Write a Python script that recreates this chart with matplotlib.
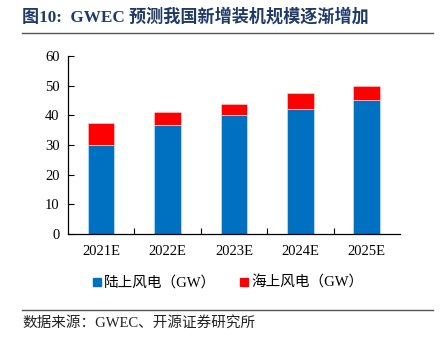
import matplotlib
matplotlib.use('Agg')
import matplotlib.pyplot as plt
from matplotlib.lines import Line2D
import numpy as np

plt.rcParams['font.family'] = ['Liberation Serif', 'Noto Sans CJK SC']

years = ['2021E', '2022E', '2023E', '2024E', '2025E']
onshore = [30.0, 36.7, 40.0, 42.2, 45.0]
offshore = [7.5, 4.3, 3.8, 5.2, 5.0]

BLUE = '#0070c0'
RED = '#ff0000'

fig = plt.figure(figsize=(4.41, 3.43), dpi=100)
ax = fig.add_axes([0.154, 0.318, 0.753, 0.519])

x = np.arange(len(years))
ax.bar(x, onshore, width=0.4, color=BLUE, edgecolor='#dce9f5', linewidth=0.4,
       label='陆上风电（GW）')
ax.bar(x, offshore, width=0.4, bottom=onshore, color=RED, edgecolor='#fbe0e0',
       linewidth=0.4, label='海上风电（GW）')

ax.set_xlim(-0.5, len(years) - 0.5)
ax.set_ylim(0, 60)
ax.set_yticks(range(0, 61, 10))
ax.set_xticks(x)
ax.set_xticklabels(years)
ax.set_xticks(np.arange(0.5, len(years) - 0.5, 1.0), minor=True)
ax.tick_params(axis='x', which='major', length=0, pad=8, labelsize=10.5)
ax.tick_params(axis='x', which='minor', direction='in', length=4, width=0.8)
ax.tick_params(axis='y', direction='in', length=4, width=0.8, labelsize=10.5, pad=6)
for side in ['top', 'right']:
    ax.spines[side].set_visible(False)
for side in ['left', 'bottom']:
    ax.spines[side].set_linewidth(0.9)

# legend with small square markers
handles = [Line2D([], [], marker='s', linestyle='', color=BLUE, markersize=6),
           Line2D([], [], marker='s', linestyle='', color=RED, markersize=6)]
fig.legend(handles, ['陆上风电（GW）', '海上风电（GW）'], loc='center',
           bbox_to_anchor=(0.515, 0.175), ncol=2, frameon=False,
           handletextpad=0.1, columnspacing=1.5, handlelength=0.8,
           prop={'family': ['Liberation Serif', 'Noto Sans CJK SC'], 'size': 10.5})

# title, rules and source
fig.text(0.05, 0.952, '图10:  GWEC 预测我国新增装机规模逐渐增加', fontsize=12.3,
         fontweight='bold', color='#1f3a68', va='center', ha='left')
fig.add_artist(Line2D([0.05, 0.982], [0.903, 0.903], transform=fig.transFigure,
                      color='#555555', linewidth=1.0))
fig.add_artist(Line2D([0.05, 0.982], [0.095, 0.095], transform=fig.transFigure,
                      color='#555555', linewidth=1.0))
fig.text(0.05, 0.058, '数据来源：GWEC、开源证券研究所', fontsize=10.5,
         color='#222222', va='center', ha='left')

fig.savefig('out.png', dpi=100)
